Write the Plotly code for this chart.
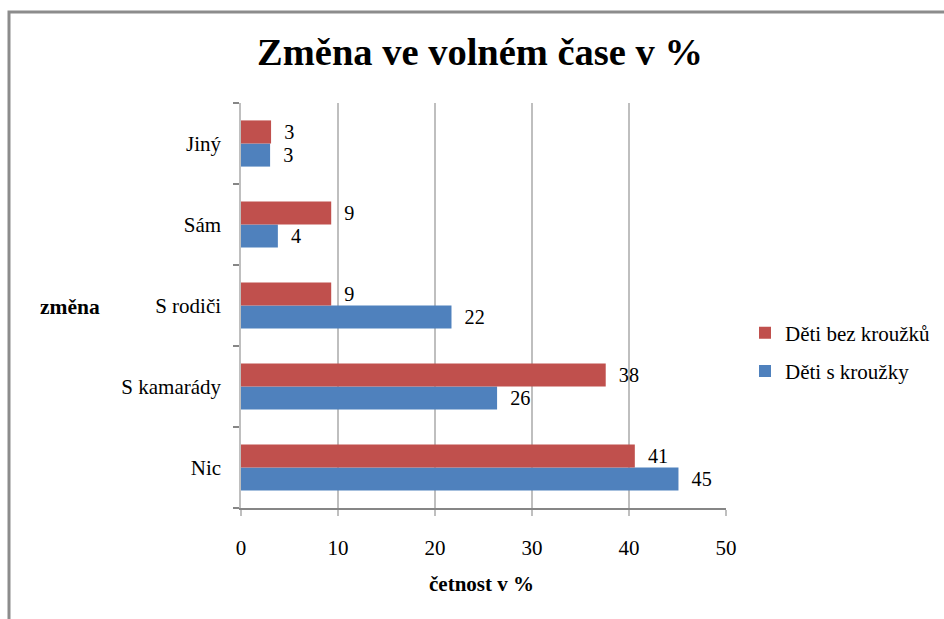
import plotly.graph_objects as go

categories = ["Nic", "S kamarády", "S rodiči", "Sám", "Jiný"]
series_names = ["Děti s kroužky", "Děti bez kroužků"]
s_krouzky = [45.1, 26.4, 21.7, 3.8, 3.0]
bez_krouzku = [40.6, 37.6, 9.3, 9.3, 3.1]
s_krouzky_labels = ["45", "26", "22", "4", "3"]
bez_krouzku_labels = ["41", "38", "9", "9", "3"]
x_ticks = [0, 10, 20, 30, 40, 50]

FONT = "Liberation Serif, Times New Roman, Tinos, DejaVu Serif, serif"
FS = 21
BLUE = "#4F81BD"
RED = "#C0504D"

fig = go.Figure()
fig.add_trace(go.Bar(
    y=categories, x=s_krouzky, orientation="h", name=series_names[0],
    marker=dict(color=BLUE, line=dict(width=0)),
    text=s_krouzky_labels, texttemplate="  %{text}", textposition="outside",
    textfont=dict(family=FONT, size=FS, color="black"),
    cliponaxis=False, legendrank=2, legendgroup="b",
))
fig.add_trace(go.Bar(
    y=categories, x=bez_krouzku, orientation="h", name=series_names[1],
    marker=dict(color=RED, line=dict(width=0)),
    text=bez_krouzku_labels, texttemplate="  %{text}", textposition="outside",
    textfont=dict(family=FONT, size=FS, color="black"),
    cliponaxis=False, legendrank=1, legendgroup="a",
))

# plot area in px: x 241..726, y 103..508
L, R, T, B = 241, 726, 103, 508
W, H = 944, 619
pw, ph = R - L, B - T

def px(x):
    return (x - L) / pw

def py(y):
    return (B - y) / ph

fig.update_layout(
    width=W, height=H,
    margin=dict(l=L, r=W - R, t=T, b=H - B, pad=0, autoexpand=False),
    paper_bgcolor="white", plot_bgcolor="white",
    barmode="group", bargap=0.43, bargroupgap=0,
    font=dict(family=FONT, size=FS, color="black"),
    title=dict(text="<b>Změna ve volném čase v %</b>",
               font=dict(family=FONT, size=38.5, color="black"),
               x=480 / W, xanchor="center", y=1 - 52 / H, yanchor="middle"),
    showlegend=True,
    legend=dict(x=px(745), xanchor="left", y=py(352), yanchor="middle",
                traceorder="grouped", tracegroupgap=8,
                font=dict(family=FONT, size=FS, color="black"),
                itemwidth=30, bgcolor="rgba(0,0,0,0)"),
    xaxis=dict(range=[0, 50], tickvals=x_ticks, showgrid=True,
               gridcolor="#BFBFBF", gridwidth=1.5,
               showline=True, linecolor="#868686", linewidth=1.5,
               ticks="outside", ticklen=6, tickcolor="#BFBFBF", tickwidth=1.5,
               ticklabelstandoff=14, zeroline=False,
               tickfont=dict(family=FONT, size=FS, color="black"), fixedrange=True),
    yaxis=dict(type="category", categoryorder="array", categoryarray=categories,
               showline=True, linecolor="#BFBFBF", linewidth=1.5,
               ticks="outside", tickson="boundaries", ticklen=6,
               tickcolor="#868686", tickwidth=1.5, ticklabelstandoff=14,
               showgrid=False, zeroline=False,
               tickfont=dict(family=FONT, size=FS, color="black"), fixedrange=True),
    annotations=[
        dict(text="<b>změna</b>", x=px(70), y=py(307), xref="paper", yref="paper",
             showarrow=False, xanchor="center", yanchor="middle",
             font=dict(family=FONT, size=21.5, color="black")),
        dict(text="<b>četnost v %</b>", x=px(481), y=py(584), xref="paper", yref="paper",
             showarrow=False, xanchor="center", yanchor="middle",
             font=dict(family=FONT, size=21, color="black")),
    ],
    shapes=[
        dict(type="rect", xref="paper", yref="paper",
             x0=px(9), x1=px(960), y0=py(640), y1=py(12),
             line=dict(color="#8C8C8C", width=3), fillcolor="rgba(0,0,0,0)", layer="below"),
    ],
)

fig.write_html("out.html", config={"displayModeBar": False},
               post_script="document.body.style.margin='0';document.body.style.overflow='hidden';")
